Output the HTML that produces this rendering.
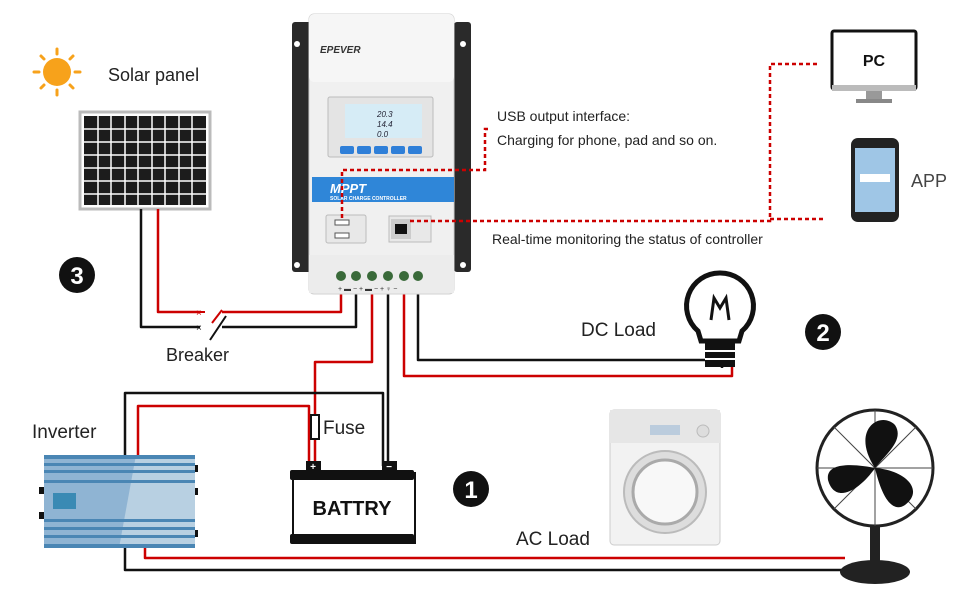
<!DOCTYPE html>
<html><head><style>
body{margin:0;background:#fff}
svg{display:block}
text{font-family:"Liberation Sans",sans-serif}
</style></head><body>
<svg width="970" height="600" viewBox="0 0 970 600" xmlns="http://www.w3.org/2000/svg">
<!-- sun -->
<g stroke="#f7a21b" stroke-width="3" stroke-linecap="round">
<line x1="57" y1="49" x2="57" y2="54"/><line x1="57" y1="90" x2="57" y2="95"/>
<line x1="34" y1="72" x2="39" y2="72"/><line x1="75" y1="72" x2="80" y2="72"/>
<line x1="41" y1="56" x2="44" y2="59"/><line x1="70" y1="85" x2="73" y2="88"/>
<line x1="73" y1="56" x2="70" y2="59"/><line x1="44" y1="85" x2="41" y2="88"/>
</g>
<circle cx="57" cy="72" r="14" fill="#f7a21b"/>
<text x="108" y="81" font-size="18" fill="#222">Solar panel</text>
<!-- solar panel -->
<rect x="80" y="112" width="130" height="97" fill="#fff" stroke="#bbb" stroke-width="3"/>
<rect x="84" y="116" width="122" height="89" fill="#1c1c1c"/>
<g stroke="#fff" stroke-width="1.5">
<line x1="84" y1="129" x2="206" y2="129"/><line x1="84" y1="142" x2="206" y2="142"/><line x1="84" y1="155" x2="206" y2="155"/><line x1="84" y1="168" x2="206" y2="168"/><line x1="84" y1="181" x2="206" y2="181"/><line x1="84" y1="194" x2="206" y2="194"/>
<line x1="98" y1="116" x2="98" y2="205"/><line x1="111" y1="116" x2="111" y2="205"/><line x1="125" y1="116" x2="125" y2="205"/><line x1="138" y1="116" x2="138" y2="205"/><line x1="152" y1="116" x2="152" y2="205"/><line x1="165" y1="116" x2="165" y2="205"/><line x1="179" y1="116" x2="179" y2="205"/><line x1="192" y1="116" x2="192" y2="205"/>
</g>
<circle cx="77" cy="275" r="18" fill="#111"/><text x="77" y="284" font-size="24" font-weight="bold" fill="#fff" text-anchor="middle">3</text>
<!-- wires -->
<g fill="none" stroke-width="2.5" stroke-linejoin="round">
<polyline points="158,209 158,312 200,312" stroke="#c00"/>
<polyline points="141,209 141,327 200,327" stroke="#111"/>
<polyline points="222,312 341,312 341,285" stroke="#c00"/>
<polyline points="222,327 356,327 356,285" stroke="#111"/>
<polyline points="372,285 372,362 315,362 315,466" stroke="#c00"/>
<polyline points="388,285 388,466" stroke="#111"/>
<polyline points="383,466 383,393 125,393 125,456" stroke="#111"/>
<polyline points="309,466 309,406 138,406 138,456" stroke="#c00"/>
<polyline points="418,285 418,360 722,360 722,368" stroke="#111"/>
<polyline points="404,285 404,376 732,376 732,366" stroke="#c00"/>
<polyline points="145,547 145,558 845,558" stroke="#c00"/>
<polyline points="125,547 125,570 845,570" stroke="#111"/>
</g>
<!-- breaker -->
<line x1="200" y1="312" x2="205" y2="312" stroke="#c00" stroke-width="2"/>
<text x="196" y="316" font-size="10" fill="#c00">×</text>
<text x="196" y="331" font-size="10" fill="#111">×</text>
<line x1="210" y1="340" x2="226" y2="316" stroke="#111" stroke-width="2"/>
<line x1="212" y1="323" x2="222" y2="310" stroke="#c00" stroke-width="2"/>
<text x="166" y="361" font-size="18" fill="#222">Breaker</text>
<!-- fuse -->
<rect x="311" y="415" width="8" height="24" fill="#fff" stroke="#111" stroke-width="2"/>
<text x="323" y="434" font-size="19" fill="#222">Fuse</text>
<!-- controller -->
<rect x="292" y="22" width="20" height="250" rx="3" fill="#2a2a2a"/>
<rect x="454" y="22" width="17" height="250" rx="3" fill="#2a2a2a"/>
<circle cx="297" cy="44" r="3" fill="#fff"/><circle cx="463" cy="44" r="3" fill="#fff"/>
<circle cx="297" cy="265" r="3" fill="#fff"/><circle cx="463" cy="265" r="3" fill="#fff"/>
<rect x="309" y="14" width="145" height="280" rx="5" fill="#f0f0f0" stroke="#d0d0d0"/>
<rect x="309" y="14" width="145" height="68" rx="5" fill="#f6f6f6"/>
<text x="320" y="53" font-size="10" font-style="italic" font-weight="bold" fill="#333">EPEVER</text>
<rect x="328" y="97" width="105" height="60" rx="2" fill="#e4e4e4" stroke="#bbb"/>
<rect x="345" y="104" width="77" height="34" fill="#d6ecf6"/>
<text x="377" y="117" font-size="8" font-style="italic" fill="#223">20.3</text>
<text x="377" y="127" font-size="8" font-style="italic" fill="#223">14.4</text>
<text x="377" y="137" font-size="8" font-style="italic" fill="#223">0.0</text>
<g fill="#2f7fd8"><rect x="340" y="146" width="14" height="8" rx="2"/><rect x="357" y="146" width="14" height="8" rx="2"/><rect x="374" y="146" width="14" height="8" rx="2"/><rect x="391" y="146" width="14" height="8" rx="2"/><rect x="408" y="146" width="14" height="8" rx="2"/></g>
<rect x="312" y="177" width="142" height="25" fill="#2f86d8"/>
<text x="330" y="193" font-size="13" font-weight="bold" font-style="italic" fill="#fff">MPPT</text>
<text x="330" y="200" font-size="5" font-weight="bold" fill="#fff">SOLAR CHARGE CONTROLLER</text>
<rect x="326" y="215" width="40" height="28" rx="2" fill="#e8e8e8" stroke="#bbb"/>
<rect x="335" y="220" width="14" height="5" fill="#fff" stroke="#555"/><rect x="335" y="233" width="14" height="5" fill="#fff" stroke="#555"/>
<rect x="389" y="216" width="42" height="26" fill="#e8e8e8" stroke="#bbb"/>
<rect x="391" y="219" width="20" height="20" fill="#ccc"/><rect x="395" y="224" width="12" height="10" fill="#111"/>
<rect x="309" y="255" width="145" height="38" fill="#ececec"/>
<g fill="#3a6a3a"><circle cx="341" cy="276" r="5"/><circle cx="356" cy="276" r="5"/><circle cx="372" cy="276" r="5"/><circle cx="388" cy="276" r="5"/><circle cx="404" cy="276" r="5"/><circle cx="418" cy="276" r="5"/></g>
<text x="338" y="291" font-size="7" fill="#333">+ ▬ −   + ▬ −   + ♀ −</text>
<!-- dotted lines -->
<g fill="none" stroke="#c00" stroke-width="2.5" stroke-dasharray="4,3">
<polyline points="342,218 342,170 485,170 485,129 490,129"/>
<polyline points="410,221 770,221 770,64 818,64"/>
<polyline points="770,219 823,219"/>
</g>
<text x="497" y="121" font-size="14" fill="#222">USB output interface:</text>
<text x="497" y="145" font-size="14" fill="#222">Charging for phone, pad and so on.</text>
<text x="492" y="244" font-size="14" fill="#222">Real-time monitoring the status of controller</text>
<!-- PC -->
<rect x="832" y="31" width="84" height="58" rx="2" fill="#fff" stroke="#111" stroke-width="3"/>
<rect x="832" y="85" width="84" height="6" fill="#bbb"/>
<rect x="866" y="91" width="16" height="8" fill="#999"/><rect x="856" y="99" width="36" height="4" fill="#888"/>
<text x="874" y="66" font-size="16" font-weight="bold" text-anchor="middle" fill="#111">PC</text>
<!-- phone -->
<rect x="851" y="138" width="48" height="84" rx="7" fill="#222"/>
<rect x="855" y="148" width="40" height="64" fill="#9fc6e6"/>
<rect x="860" y="174" width="30" height="8" fill="#fff"/>
<text x="911" y="187" font-size="18" fill="#444">APP</text>
<!-- bulb -->
<path d="M720 273 a33 33 0 0 1 22 58 l-3 10 h-38 l-3 -10 a33 33 0 0 1 22 -58z" fill="#fff" stroke="#111" stroke-width="5"/>
<path d="M711 320 l3 -22 l6 10 l6 -10 l3 22" fill="none" stroke="#111" stroke-width="3"/>
<rect x="705" y="343" width="30" height="24" fill="#111"/>
<line x1="705" y1="351" x2="735" y2="351" stroke="#fff" stroke-width="2"/><line x1="705" y1="359" x2="735" y2="359" stroke="#fff" stroke-width="2"/>
<text x="581" y="336" font-size="19" fill="#222">DC Load</text>
<circle cx="823" cy="332" r="18" fill="#111"/><text x="823" y="341" font-size="24" font-weight="bold" fill="#fff" text-anchor="middle">2</text>
<!-- inverter -->
<text x="32" y="438" font-size="19" fill="#222">Inverter</text>
<rect x="44" y="455" width="151" height="93" fill="#b8d0e2"/>
<polygon points="44,455 136,455 119,548 44,548" fill="#8fb4d3"/>
<g fill="#4a86b4"><rect x="44" y="455" width="151" height="4"/><rect x="44" y="463" width="151" height="3"/><rect x="44" y="470" width="151" height="3"/><rect x="44" y="480" width="151" height="3"/><rect x="44" y="519" width="151" height="3"/><rect x="44" y="527" width="151" height="3"/><rect x="44" y="535" width="151" height="3"/><rect x="44" y="544" width="151" height="4"/></g>
<rect x="53" y="493" width="23" height="16" fill="#3a8ab4"/>
<rect x="39" y="487" width="5" height="7" fill="#111"/><rect x="39" y="512" width="5" height="7" fill="#111"/>
<rect x="195" y="465" width="3" height="7" fill="#111"/><rect x="195" y="488" width="3" height="7" fill="#111"/><rect x="195" y="530" width="3" height="7" fill="#111"/>
<!-- battery -->
<rect x="306" y="461" width="15" height="10" fill="#111"/><rect x="382" y="461" width="15" height="10" fill="#111"/>
<text x="313" y="470" font-size="10" fill="#fff" text-anchor="middle" font-weight="bold">+</text>
<text x="389" y="470" font-size="10" fill="#fff" text-anchor="middle" font-weight="bold">−</text>
<rect x="293" y="473" width="122" height="70" fill="#fff" stroke="#111" stroke-width="2"/>
<rect x="290" y="470" width="124" height="10" rx="2" fill="#111"/><rect x="290" y="534" width="124" height="10" rx="2" fill="#111"/>
<text x="352" y="515" font-size="20" font-weight="bold" text-anchor="middle" fill="#111">BATTRY</text>
<circle cx="471" cy="489" r="18" fill="#111"/><text x="471" y="498" font-size="24" font-weight="bold" fill="#fff" text-anchor="middle">1</text>
<text x="516" y="545" font-size="19" fill="#222">AC Load</text>
<!-- washer -->
<rect x="610" y="410" width="110" height="135" rx="4" fill="#f2f2f2" stroke="#ccc"/>
<rect x="610" y="410" width="110" height="33" fill="#e6e6e6"/>
<rect x="650" y="425" width="30" height="10" fill="#bcd"/><circle cx="703" cy="431" r="6" fill="#ddd" stroke="#bbb"/>
<circle cx="665" cy="492" r="41" fill="#ddd" stroke="#bbb" stroke-width="2"/>
<circle cx="665" cy="492" r="32" fill="#f8f8f8" stroke="#aaa" stroke-width="3"/>
<!-- fan -->
<circle cx="875" cy="468" r="58" fill="none" stroke="#222" stroke-width="3"/>
<g stroke="#444" stroke-width="1"><line x1="817" y1="468" x2="933" y2="468"/><line x1="875" y1="410" x2="875" y2="526"/><line x1="834" y1="427" x2="916" y2="509"/><line x1="916" y1="427" x2="834" y2="509"/></g>
<path d="M875 468 C850 430 880 410 895 425 C905 440 885 455 875 468 C905 470 925 490 905 505 C890 515 880 490 875 468 C860 490 835 505 828 480 C825 460 860 465 875 468z" fill="#111"/>
<rect x="870" y="526" width="10" height="40" fill="#222"/>
<ellipse cx="875" cy="572" rx="35" ry="12" fill="#222"/>
</svg>
</body></html>
